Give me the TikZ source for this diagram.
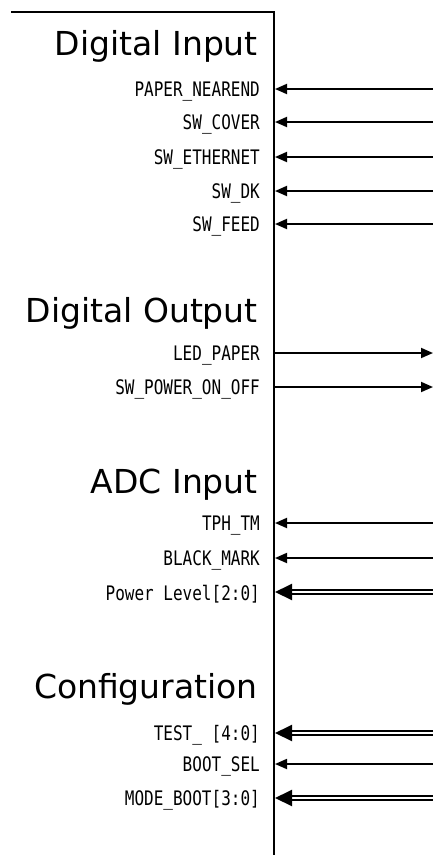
\documentclass[tikz,border=0pt]{standalone}
\usepackage{fontspec}
\newfontfamily\headfont{DejaVu Sans}
\newfontfamily\sigfont[FakeStretch=0.8]{DejaVu Sans Mono}
\usetikzlibrary{arrows.meta}
\tikzset{
  head/.style={font=\headfont\fontsize{33}{33}\selectfont, anchor=base east, inner sep=0pt},
  sig/.style={font=\sigfont\fontsize{20}{20}\selectfont, anchor=base east, inner sep=0pt},
  boxline/.style={line width=1.8pt},
  inarrow/.style={line width=1.8pt, -{Triangle[length=12pt,width=10pt]}},
  outarrow/.style={line width=1.8pt, -{Triangle[length=12pt,width=10pt]}},
  busarrow/.style={double, double distance=2pt, line width=2pt, -{Triangle[length=17pt,width=16pt]}}
}
\begin{document}
\begin{tikzpicture}[x=1pt,y=-1pt]
\useasboundingbox (0,0) rectangle (433,855);
% box edges
\coordinate (tl) at (11,12);
\coordinate (tr) at (274,12);
\coordinate (br) at (274,855);
\draw[boxline] (tl) -- (tr) -- (br);

% headings
\node[head] (h1) at (258,55) {Digital Input};
\node[head] (h2) at (258,322) {Digital Output};
\node[head] (h3) at (258,493) {ADC Input};
\node[head] (h4) at (258,698) {Configuration};

% Digital Input
\node[sig] (s1) at (260,96) {PAPER\_NEAREND};
\node[sig] (s2) at (260,129) {SW\_COVER};
\node[sig] (s3) at (260,164) {SW\_ETHERNET};
\node[sig] (s4) at (260,198) {SW\_DK};
\node[sig] (s5) at (260,231) {SW\_FEED};
\foreach \n/\y in {1/89,2/122,3/157,4/191,5/224}{
  \coordinate (e\n) at (275,\y);
  \coordinate (r\n) at (433,\y);
  \draw[inarrow] (r\n) -- (e\n);
}

% Digital Output
\node[sig] (s6) at (260,360) {LED\_PAPER};
\node[sig] (s7) at (260,394) {SW\_POWER\_ON\_OFF};
\foreach \n/\y in {6/353,7/387}{
  \coordinate (e\n) at (274,\y);
  \coordinate (r\n) at (433,\y);
  \draw[outarrow] (e\n) -- (r\n);
}

% ADC Input
\node[sig] (s8) at (260,530) {TPH\_TM};
\node[sig] (s9) at (260,565) {BLACK\_MARK};
\node[sig] (s10) at (260,600) {Power Level[2:0]};
\foreach \n/\y in {8/523,9/558}{
  \coordinate (e\n) at (275,\y);
  \coordinate (r\n) at (433,\y);
  \draw[inarrow] (r\n) -- (e\n);
}
\coordinate (e10) at (275,592);
\coordinate (r10) at (433,592);
\draw[busarrow] (r10) -- (e10);

% Configuration
\node[sig] (s11) at (260,740) {TEST\_ [4:0]};
\node[sig] (s12) at (260,771) {BOOT\_SEL};
\node[sig] (s13) at (260,805) {MODE\_BOOT[3:0]};
\coordinate (e11) at (275,733);
\coordinate (r11) at (433,733);
\draw[busarrow] (r11) -- (e11);
\coordinate (e12) at (275,764);
\coordinate (r12) at (433,764);
\draw[inarrow] (r12) -- (e12);
\coordinate (e13) at (275,798);
\coordinate (r13) at (433,798);
\draw[busarrow] (r13) -- (e13);
\end{tikzpicture}
\end{document}
